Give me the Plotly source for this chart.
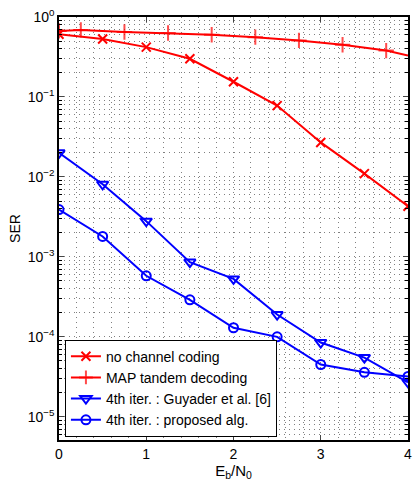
import plotly.graph_objects as go

x_nocode = [0, 0.5, 1, 1.5, 2, 2.5, 3, 3.5, 4]
ser_nocode = [0.61, 0.53, 0.42, 0.30, 0.155, 0.078, 0.027, 0.011, 0.0043]

x_map = [0, 0.25, 0.75, 1.25, 1.75, 2.25, 2.75, 3.25, 3.75, 4]
ser_map = [0.67, 0.69, 0.65, 0.63, 0.60, 0.56, 0.51, 0.45, 0.38, 0.33]
map_marker_on = [1, 1, 1, 1, 1, 1, 1, 1, 1, 0]

x_iter = [0, 0.5, 1, 1.5, 2, 2.5, 3, 3.5, 4]
ser_guyader = [0.020, 0.0081, 0.0028, 8.6e-4, 5.3e-4, 1.9e-4, 8.5e-5, 5.5e-5, 2.7e-5]
ser_proposed = [0.0039, 0.0018, 5.8e-4, 2.9e-4, 1.3e-4, 1.0e-4, 4.5e-5, 3.6e-5, 3.2e-5]

ytick_vals = [1e-5, 1e-4, 1e-3, 1e-2, 1e-1, 1]
ytick_text = ["10<sup>−5</sup>", "10<sup>−4</sup>", "10<sup>−3</sup>",
              "10<sup>−2</sup>", "10<sup>−1</sup>", "10<sup>0</sup>"]
xtick_vals = [0, 1, 2, 3, 4]

RED = "#ff0000"
BLUE = "#0000ff"

fig = go.Figure()
fig.add_trace(go.Scatter(
    x=x_nocode, y=ser_nocode, mode="lines+markers", name="no channel coding",
    line=dict(color=RED, width=2),
    marker=dict(symbol="x-thin", size=9, line=dict(color=RED, width=2), color=RED)))
fig.add_trace(go.Scatter(
    x=x_map, y=ser_map, mode="lines+markers", name="MAP tandem decoding",
    line=dict(color=RED, width=2),
    marker=dict(symbol="cross-thin", size=[11 * m for m in map_marker_on],
                line=dict(color=RED, width=2), color=RED)))
fig.add_trace(go.Scatter(
    x=x_iter, y=ser_guyader, mode="lines+markers", name="4th iter. : Guyader et al. [6]",
    line=dict(color=BLUE, width=2),
    marker=dict(symbol="triangle-down-open", size=10, line=dict(color=BLUE, width=2), color=BLUE)))
fig.add_trace(go.Scatter(
    x=x_iter, y=ser_proposed, mode="lines+markers", name="4th iter. : proposed alg.",
    line=dict(color=BLUE, width=2),
    marker=dict(symbol="circle-open", size=9, line=dict(color=BLUE, width=2), color=BLUE)))

grid_col = "#808080"
grid_dash = "1px,4px"
fig.update_layout(
    width=415, height=486,
    margin=dict(l=59, r=3, t=17, b=46),
    paper_bgcolor="white", plot_bgcolor="white",
    font=dict(family="Liberation Sans, Arial, sans-serif", size=14, color="black"),
    showlegend=True,
    legend=dict(x=0.017, y=0.008, xanchor="left", yanchor="bottom",
                bgcolor="white", bordercolor="black", borderwidth=1,
                font=dict(size=14), tracegroupgap=0, itemwidth=30,
                traceorder="normal"),
    xaxis=dict(range=[0, 4], tickvals=xtick_vals, ticks="inside", ticklen=5,
               showline=True, linecolor="black", linewidth=1.5, mirror="allticks",
               showgrid=True, gridcolor=grid_col, griddash=grid_dash, gridwidth=1,
               zeroline=False, tickfont=dict(size=14),
               minor=dict(dtick=0.2, showgrid=True, gridcolor=grid_col, griddash=grid_dash,
                          ticks="", gridwidth=1),
               title=dict(text="E<sub>b</sub>/N<sub>0</sub>", standoff=2, font=dict(size=15))),
    yaxis=dict(type="log", range=[-5.29, 0], tickvals=ytick_vals, ticktext=ytick_text,
               ticks="inside", ticklen=5, tickfont=dict(size=14),
               showline=True, linecolor="black", linewidth=1.5, mirror="allticks",
               showgrid=True, gridcolor=grid_col, griddash=grid_dash, gridwidth=1,
               zeroline=False,
               minor=dict(dtick="D1", showgrid=True, gridcolor=grid_col, griddash=grid_dash,
                          ticks="inside", ticklen=3, tickcolor="black", gridwidth=1),
               title=dict(text="SER", standoff=4, font=dict(size=14))),
)

fig.write_html("out.html")
